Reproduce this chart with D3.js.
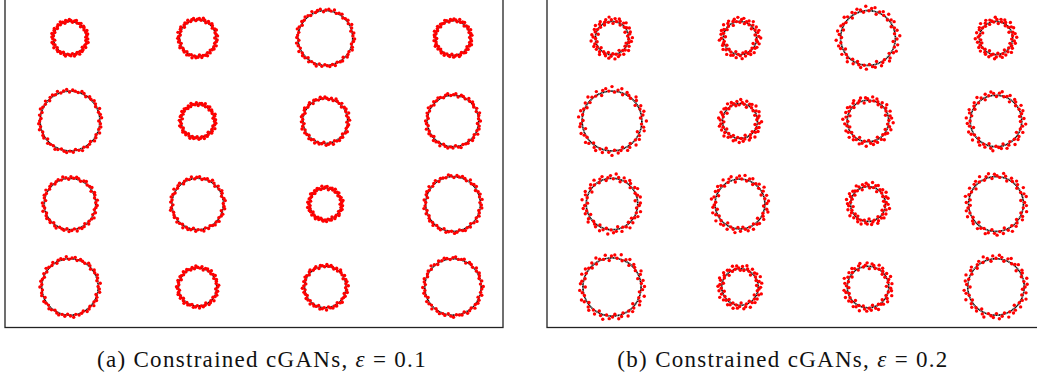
<!DOCTYPE html>
<html>
<head>
<meta charset="utf-8">
<script src="https://cdn.jsdelivr.net/npm/d3@7"></script>
<style>
  body { margin: 0; background: #fff; }
  svg { display: block; }
</style>
</head>
<body>
<svg id="chart" width="1037" height="383"></svg>
<script>
// grid of target circles (4 rows x 4 cols), radius in grid units
var cols = [0, 1, 2, 3];
var rows = [0, 1, 2, 3];
var radiiA = [[0.20, 0.22, 0.33, 0.21],
              [0.36, 0.20, 0.27, 0.31],
              [0.31, 0.31, 0.19, 0.33],
              [0.34, 0.23, 0.25, 0.34]];
var radiiB = [[0.20, 0.20, 0.33, 0.20],
              [0.36, 0.21, 0.25, 0.31],
              [0.31, 0.30, 0.21, 0.33],
              [0.35, 0.22, 0.25, 0.34]];
var epsilons = [0.1, 0.2];
var captions = ["(a) Constrained cGANs, ", "(b) Constrained cGANs, "];
// generated samples: [angle in degrees, radial offset in units of eps]
var samples = [[3,0.4],[9,-0.6],[14,0.9],[19,0.1],[26,-0.3],[31,0.7],[37,-0.9],[42,0.3],
  [48,0.6],[53,-0.2],[59,1.0],[64,-0.5],[70,0.2],[76,0.8],[81,-0.7],[87,0.4],
  [92,0.0],[98,-0.4],[104,0.9],[109,0.3],[115,-0.8],[121,0.5],[126,-0.1],[132,0.7],
  [138,0.2],[143,-0.6],[149,1.0],[155,-0.3],[160,0.4],[166,0.8],[172,-0.9],[177,0.1],
  [183,0.6],[188,-0.2],[194,0.9],[200,-0.5],[205,0.3],[211,0.7],[217,-0.7],[222,0.0],
  [228,0.5],[234,-0.4],[239,1.0],[245,0.2],[251,-0.8],[256,0.6],[262,-0.1],[268,0.8],
  [273,0.3],[279,-0.6],[285,0.4],[290,0.9],[296,-0.3],[302,0.1],[307,0.7],[313,-0.9],
  [319,0.5],[324,0.2],[330,-0.5],[336,0.8],[341,-0.2],[347,0.6],[352,0.0],[357,-0.7]];

var svg = d3.select("#chart");
var panels = [
  {left: 5, right: 503, x0: 70, x3: 453, cap: 262, radii: radiiA},
  {left: 547, right: 1046, x0: 612, x3: 996, cap: 783, radii: radiiB}
];
var y = d3.scaleLinear().domain([0, 3]).range([38, 287]);
var r = d3.scaleLinear().domain([0, 1]).range([0, 83]);

panels.forEach(function(p, k){
  var x = d3.scaleLinear().domain([0, 3]).range([p.x0, p.x3]);
  var g = svg.append("g");
  var eps = epsilons[k];
  var noise = eps * 18; // px spread of samples around the circle

  var cells = [];
  rows.forEach(function(j){
    cols.forEach(function(i){
      cells.push({i: i, j: j, rad: p.radii[j][i]});
    });
  });

  // black target circles
  g.selectAll("circle.target").data(cells).enter().append("circle")
    .attr("class", "target")
    .attr("cx", function(d){ return x(d.i); })
    .attr("cy", function(d){ return y(d.j); })
    .attr("r", function(d){ return r(d.rad); })
    .attr("fill", "none")
    .attr("stroke", "#111")
    .attr("stroke-width", 1.7)
    .attr("stroke-dasharray", "1.2 0.4");

  // red generated points
  cells.forEach(function(c, n){
    var rot = n * 47 + k * 23;
    g.selectAll(null).data(samples).enter().append("circle")
      .attr("cx", function(s){
        var a = (s[0] + rot) * Math.PI / 180;
        var rr = r(c.rad) + (0.25 + s[1]) * noise;
        return x(c.i) + rr * Math.cos(a);
      })
      .attr("cy", function(s){
        var a = (s[0] + rot) * Math.PI / 180;
        var rr = r(c.rad) + (0.25 + s[1]) * noise;
        return y(c.j) + rr * Math.sin(a);
      })
      .attr("r", 1.7)
      .attr("fill", "#ff0000");
  });

  // frame
  g.append("rect")
    .attr("x", p.left).attr("y", -5)
    .attr("width", p.right - p.left).attr("height", 327.5 + 5)
    .attr("fill", "none")
    .attr("stroke", "#222")
    .attr("stroke-width", 1.3);

  var t = svg.append("text")
    .attr("x", p.cap).attr("y", 367)
    .attr("text-anchor", "middle")
    .style("font-family", "'Liberation Serif', 'DejaVu Serif', serif")
    .style("font-size", "23px")
    .style("letter-spacing", "1.3px")
    .attr("fill", "#111");
  t.append("tspan").text(captions[k]);
  t.append("tspan").style("font-style", "italic").text("ε");
  t.append("tspan").text(" = " + eps);
});
</script>
</body>
</html>
